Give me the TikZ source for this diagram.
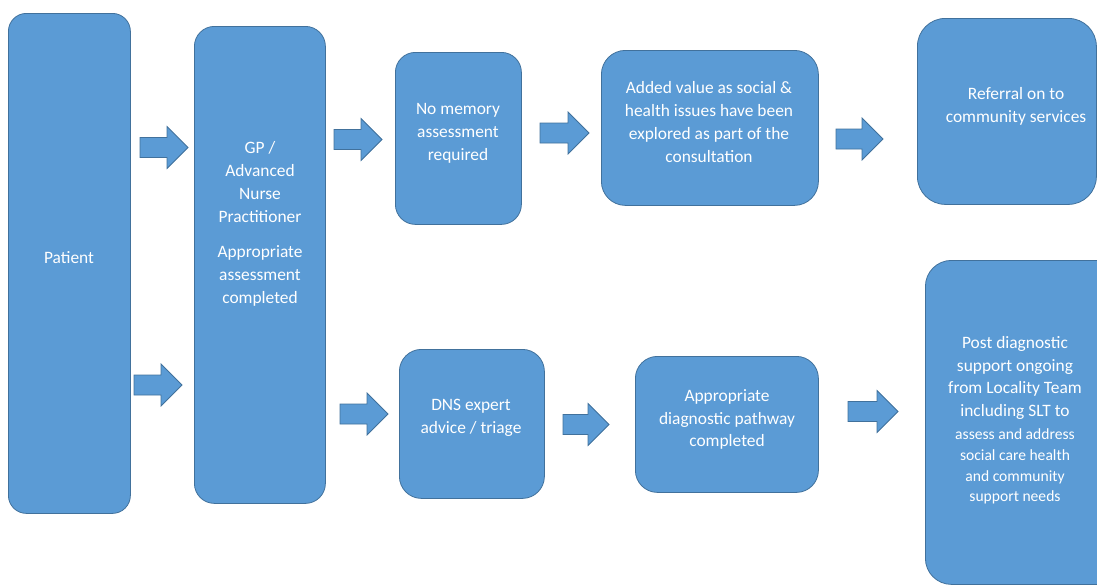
\documentclass[tikz,border=0pt]{standalone}
\usepackage{fontspec}
\setmainfont{Carlito}
\definecolor{boxfill}{HTML}{5B9BD5}
\definecolor{boxline}{HTML}{41719C}

% block arrow: #1 = left x, #2 = centre y, #3 = total length
\newcommand{\blockarrow}[3]{%
  \draw[arrowbox] (#1,#2-10) -- (#1+#3-21,#2-10) -- (#1+#3-21,#2-21)
    -- (#1+#3,#2) -- (#1+#3-21,#2+21) -- (#1+#3-21,#2+10) -- (#1,#2+10) -- cycle;}

% rounded step box: #1 name, #2 x, #3 y (top left), #4 width, #5 height, #6 corner radius
\newcommand{\flowbox}[6]{%
  \node[box, minimum width=#4pt, minimum height=#5pt, rounded corners=#6pt] (#1) at (#2,#3) {};}

\begin{document}
\begin{tikzpicture}[x=1pt, y=-1pt,
  box/.style={draw=boxline, fill=boxfill, line width=0.8pt, inner sep=0pt, anchor=north west},
  lbl/.style={text=white, align=center, inner sep=0pt, font=\fontsize{17.4}{22.8}\selectfont},
  lblsmall/.style={lbl, font=\fontsize{15.6}{20.7}\selectfont},
  arrowbox/.style={draw=boxline, fill=boxfill, line width=0.8pt, line join=miter}]
\useasboundingbox (0,0) rectangle (1097,584);
\clip (0,0) rectangle (1097,584);

% boxes
\flowbox{patient}{8}{13}{122}{500}{18}
\flowbox{gp}{194}{26}{131}{477}{20}
\flowbox{nomem}{395}{52}{126}{172}{20}
\flowbox{added}{601}{50}{217}{155}{24}
\flowbox{referral}{917}{18}{179}{186}{28}
\flowbox{dns}{399}{349}{145}{149}{22}
\flowbox{diag}{635}{356}{183}{136}{22}
\flowbox{post}{925}{260}{200}{324}{26}

% block arrows
\blockarrow{140}{147.5}{48}
\blockarrow{134}{385}{48}
\blockarrow{334}{139.5}{48}
\blockarrow{540}{133}{49}
\blockarrow{836}{139}{47}
\blockarrow{340}{414}{48}
\blockarrow{563}{424.5}{46}
\blockarrow{848}{411.5}{50}

% texts
\node[lbl] (tpatient) at (69,257.5) {Patient};
\node[lbl] (tgp) at (260,224) {GP /\\Advanced\\Nurse\\Practitioner\\[13pt]Appropriate\\assessment\\completed};
\node[lbl] (tnomem) at (458,133.5) {No memory\\assessment\\required};
\node[lbl] (tadded) at (709,122) {Added value as social \&\\health issues have been\\explored as part of the\\consultation};
\node[lbl] (treferral) at (1016,106.5) {Referral on to\\community services};
\node[lbl] (tdns) at (471,418) {DNS expert\\advice / triage};
\node[lbl] (tdiag) at (727,419.5) {Appropriate\\diagnostic pathway\\completed};
\node[lbl] (tpost) at (1015,378) {Post diagnostic\\support ongoing\\from Locality Team\\including SLT to};
\node[lblsmall] (tpostb) at (1015,466.5) {assess and address\\social care health\\and community\\support needs};
\end{tikzpicture}
\end{document}
